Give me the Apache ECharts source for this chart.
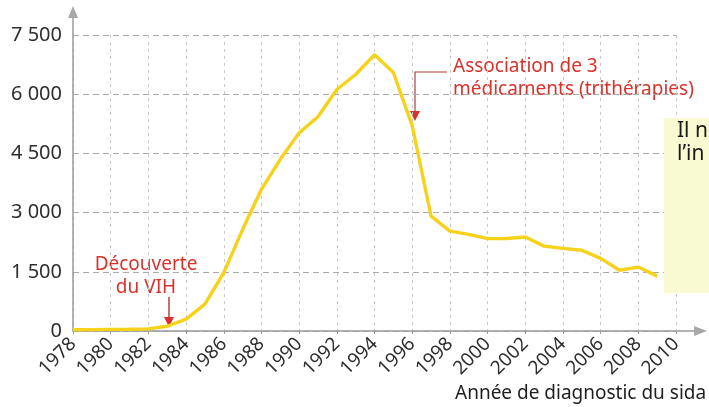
<!DOCTYPE html>
<html>
<head>
<meta charset="utf-8">
<title>Année de diagnostic du sida</title>
<script src="https://cdn.jsdelivr.net/npm/echarts@6/dist/echarts.min.js"></script>
<style>
  html, body { margin: 0; padding: 0; background: #fff; }
  #chart { width: 709px; height: 407px; }
</style>
</head>
<body>
<div id="chart"></div>
<script>
// years and new AIDS diagnoses
const years = [1978, 1979, 1980, 1981, 1982, 1983, 1984, 1985, 1986, 1987, 1988, 1989,
  1990, 1991, 1992, 1993, 1994, 1995, 1996, 1997, 1998, 1999, 2000, 2001, 2002, 2003,
  2004, 2005, 2006, 2007, 2008, 2009]
const cases = [30, 35, 40, 45, 55, 120, 300, 680, 1480, 2570, 3590, 4350,
  5020, 5430, 6120, 6500, 7000, 6550, 5200, 2910, 2530, 2450, 2340, 2345, 2380, 2150,
  2095, 2045, 1840, 1540, 1620, 1390]
const yTicks = [0, 1500, 3000, 4500, 6000, 7500]

const fontFamily = '"Noto Sans", sans-serif'
const red = '#d8322b'
const axisGray = '#9a9a9a'

const chart = echarts.init(document.getElementById('chart'))

const fmtThousands = v => String(v).replace(/\B(?=(\d{3})+(?!\d))/g, ' ')

chart.setOption({
  animation: false,
  grid: { left: 73, right: 33, top: 35, bottom: 76 },
  xAxis: {
    type: 'value',
    min: 1978,
    max: 2010,
    interval: 2,
    axisLine: { show: true, lineStyle: { color: axisGray, width: 1.5 } },
    axisTick: { show: true, length: 3, lineStyle: { color: axisGray } },
    axisLabel: {
      rotate: 45,
      margin: 10,
      color: '#2e2e2e',
      fontSize: 19,
      fontFamily: fontFamily,
      formatter: v => String(v)
    },
    splitLine: { show: true, lineStyle: { color: '#c8c8c8', type: [3, 4], width: 1 } }
  },
  yAxis: {
    type: 'value',
    min: yTicks[0],
    max: yTicks[yTicks.length - 1],
    interval: 1500,
    axisLine: { show: true, lineStyle: { color: axisGray, width: 1.5 } },
    axisTick: { show: false },
    axisLabel: {
      margin: 11,
      color: '#2e2e2e',
      fontSize: 20,
      fontFamily: fontFamily,
      formatter: v => fmtThousands(v)
    },
    splitLine: { show: true, lineStyle: { color: '#aaaaaa', type: [6, 4], width: 1 } }
  },
  series: [{
    type: 'line',
    data: years.map((y, i) => [y, cases[i]]),
    showSymbol: false,
    lineStyle: { color: '#f7d21a', width: 3.4 },
    z: 3
  }],
  graphic: [
    // axis extensions with arrow heads
    { type: 'line', shape: { x1: 73, y1: 35, x2: 73, y2: 16 }, style: { stroke: axisGray, lineWidth: 1.5 } },
    { type: 'polygon', shape: { points: [[73, 6], [68, 18], [78, 18]] }, style: { fill: '#a8a8a8' } },
    { type: 'line', shape: { x1: 676, y1: 331, x2: 695, y2: 331 }, style: { stroke: axisGray, lineWidth: 1.5 } },
    { type: 'polygon', shape: { points: [[707, 331], [694, 326], [694, 336]] }, style: { fill: '#a8a8a8' } },

    // x axis title
    { type: 'text', left: 455, top: 384, style: { text: 'Année de diagnostic du sida', fill: '#1e1e1e', font: '19px ' + fontFamily } },

    // Découverte du VIH
    { type: 'text', x: 146, y: 265, style: { text: 'Découverte', fill: red, font: '19px ' + fontFamily, align: 'center', verticalAlign: 'middle' } },
    { type: 'text', x: 146, y: 288, style: { text: 'du VIH', fill: red, font: '19px ' + fontFamily, align: 'center', verticalAlign: 'middle' } },
    { type: 'line', shape: { x1: 169, y1: 297, x2: 169, y2: 318 }, style: { stroke: '#b8413a', lineWidth: 1.5 } },
    { type: 'polygon', shape: { points: [[169, 327], [164, 317], [174, 317]] }, style: { fill: red } },

    // Association de 3 médicaments
    { type: 'text', x: 453, y: 67, style: { text: 'Association de 3', fill: red, font: '19px ' + fontFamily, verticalAlign: 'middle' } },
    { type: 'text', x: 453, y: 90, style: { text: 'médicaments (trithérapies)', fill: red, font: '19px ' + fontFamily, verticalAlign: 'middle' } },
    { type: 'polyline', shape: { points: [[447, 72], [415, 72], [415, 112]] }, style: { stroke: '#a8433d', lineWidth: 1.2, fill: null } },
    { type: 'polygon', shape: { points: [[415, 121], [410, 111], [420, 111]] }, style: { fill: red } },

    // pale text box on the right
    { type: 'rect', shape: { x: 664, y: 118, width: 45, height: 175 }, style: { fill: '#f9f9d2' }, z: 10 },
    { type: 'text', x: 677, y: 131, style: { text: 'Il n', fill: '#1a1a1a', font: '21px ' + fontFamily, verticalAlign: 'middle' }, z: 11 },
    { type: 'text', x: 677, y: 154, style: { text: 'l’in', fill: '#1a1a1a', font: '21px ' + fontFamily, verticalAlign: 'middle' }, z: 11 }
  ]
})
</script>
</body>
</html>
